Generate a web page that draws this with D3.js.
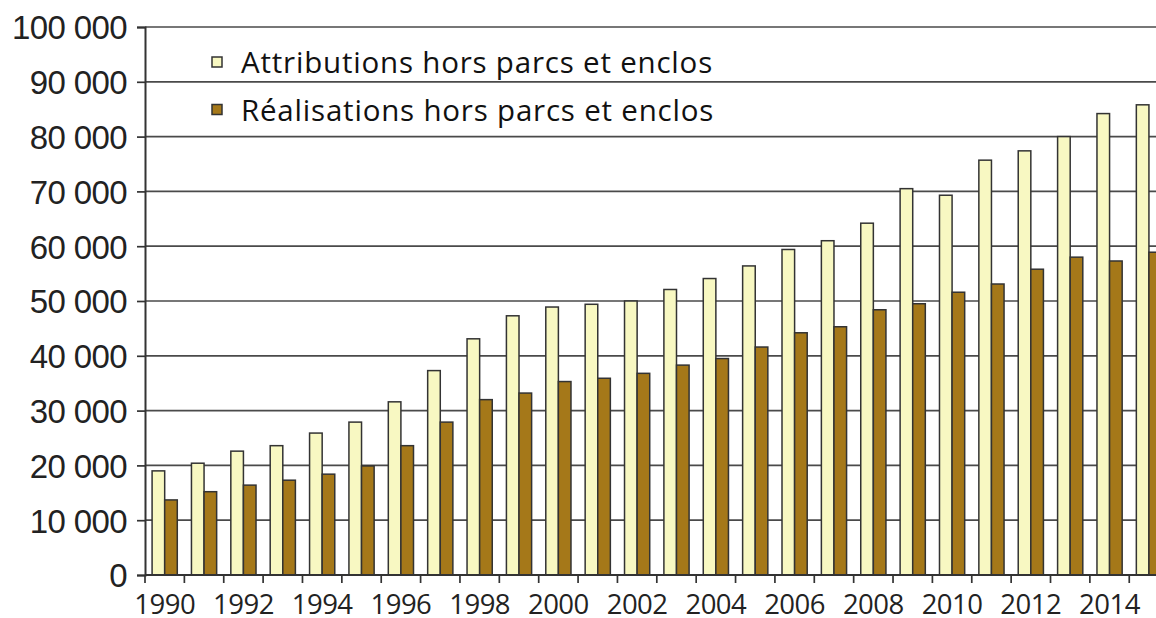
<!DOCTYPE html>
<html>
<head>
<meta charset="utf-8">
<script src="https://cdn.jsdelivr.net/npm/d3@7"></script>
<style>
  html, body { margin: 0; padding: 0; background: #fff; }
  svg { display: block; font-family: 'Open Sans', 'Noto Sans', sans-serif; }
</style>
</head>
<body>
<div id="chart"></div>
<script>
// données
const years = d3.range(1990, 2016)
const series = ['Attributions hors parcs et enclos', 'Réalisations hors parcs et enclos']
const attributions = [19000, 20400, 22600, 23600, 25900, 27900, 31600, 37300, 43100, 47300,
  48900, 49400, 50000, 52100, 54100, 56400, 59400, 61000, 64200, 70500,
  69300, 75700, 77400, 80000, 84200, 85800]
const realisations = [13700, 15200, 16400, 17300, 18400, 19900, 23600, 27900, 32000, 33200,
  35300, 35900, 36800, 38300, 39500, 41600, 44200, 45300, 48400, 49500,
  51600, 53100, 55800, 58000, 57300, 58900]
const yTicks = d3.range(0, 100001, 10000)
const xLabels = years.filter(d => d % 2 === 0)

const width = 1156
const height = 618
const colors = ['#f8f8c2', '#a57819']

const svg = d3.select('#chart')
  .append('svg')
  .attr('width', width)
  .attr('height', height)

const left = 145
const step = 39.37
const x = d3.scaleBand()
  .domain(years)
  .range([left, left + step * years.length])
  .paddingInner(0.36)
  .paddingOuter(0.18)
const xs = d3.scaleBand()
  .domain(series)
  .range([0, x.bandwidth()])
const y = d3.scaleLinear()
  .domain([0, 100000])
  .range([575, 27])

const fr = d3.formatLocale({ decimal: ',', thousands: ' ', grouping: [3], currency: ['', ''] })
const fmt = fr.format(',')

// lignes de grille
svg.append('g')
  .selectAll('line')
  .data(yTicks.filter(d => d > 0))
  .enter()
  .append('line')
  .attr('x1', left)
  .attr('x2', width)
  .attr('y1', d => y(d))
  .attr('y2', d => y(d))
  .style('stroke', '#4a4a4a')
  .style('stroke-width', 1.7)

// barres
const table = years.map((yr, i) => ({ year: yr, values: [attributions[i], realisations[i]] }))
svg.append('g')
  .selectAll('g')
  .data(table)
  .enter()
  .append('g')
  .attr('transform', d => `translate(${x(d.year)},0)`)
  .selectAll('rect')
  .data(d => d.values.map((v, k) => ({ key: series[k], value: v, k: k })))
  .enter()
  .append('rect')
  .attr('x', d => xs(d.key))
  .attr('width', xs.bandwidth())
  .attr('y', d => y(d.value))
  .attr('height', d => y(0) - y(d.value))
  .style('fill', d => colors[d.k])
  .style('stroke', '#333')
  .style('stroke-width', 1.5)

// axe Y
const yAxis = svg.append('g')
  .attr('transform', `translate(${left},0)`)
  .call(d3.axisLeft(y).tickValues(yTicks).tickSize(8).tickPadding(10).tickFormat(fmt))
yAxis.select('.domain').style('stroke', '#333').style('stroke-width', 2)
yAxis.selectAll('.tick line').style('stroke', '#333').style('stroke-width', 1.7)
yAxis.selectAll('text')
  .style('font-size', '33px')
  .style('letter-spacing', '-0.6px')
  .style('fill', '#222')
  .attr('dy', '0.36em')

// axe X
svg.append('line')
  .attr('x1', left)
  .attr('x2', width)
  .attr('y1', y(0))
  .attr('y2', y(0))
  .style('stroke', '#333')
  .style('stroke-width', 2)

svg.append('g')
  .selectAll('line')
  .data(years)
  .enter()
  .append('line')
  .attr('x1', d => x(d) - x.step() * 0.18)
  .attr('x2', d => x(d) - x.step() * 0.18)
  .attr('y1', y(0))
  .attr('y2', y(0) + 8)
  .style('stroke', '#333')
  .style('stroke-width', 1.7)

svg.append('g')
  .selectAll('text')
  .data(xLabels)
  .enter()
  .append('text')
  .attr('x', d => x(d) + x.bandwidth() / 2)
  .attr('y', 614)
  .attr('text-anchor', 'middle')
  .style('font-size', '27.5px')
  .style('letter-spacing', '-0.5px')
  .style('fill', '#222')
  .text(d => d)

// légende
const legend = svg.append('g')
  .selectAll('g')
  .data(series)
  .enter()
  .append('g')
  .attr('transform', (d, i) => `translate(212,${57 + i * 47.5})`)
legend.append('rect')
  .attr('width', 10)
  .attr('height', 10)
  .style('fill', (d, i) => colors[i])
  .style('stroke', '#333')
  .style('stroke-width', 1.5)
legend.append('text')
  .attr('x', 29)
  .attr('y', 16)
  .style('font-size', '29.5px')
  .style('letter-spacing', '0.8px')
  .style('fill', '#111')
  .text(d => d)
</script>
</body>
</html>
